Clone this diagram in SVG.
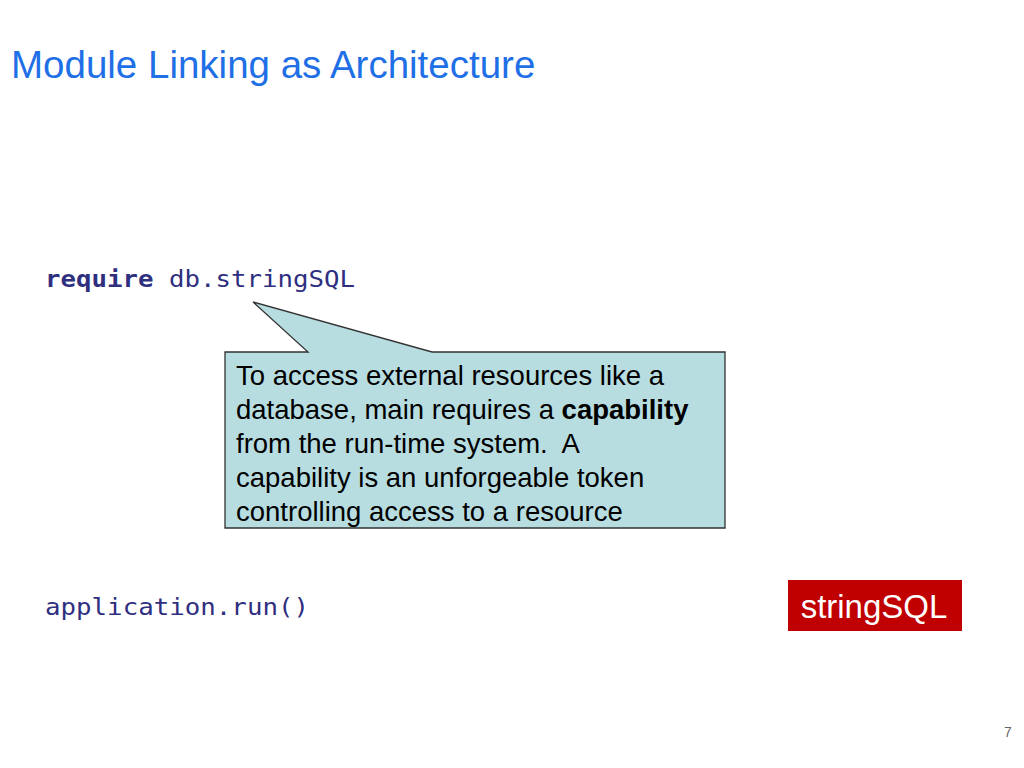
<svg xmlns="http://www.w3.org/2000/svg" width="1024" height="768" viewBox="0 0 1024 768">
<style>
.code{font-family:"DejaVu Sans Mono","Liberation Mono",monospace;font-size:23px;fill:#2f2f7f}
.body{font-family:"Liberation Sans",Arial,sans-serif;font-size:27.5px;fill:#000}
</style>
<rect width="1024" height="768" fill="#fff"/>
<text x="11" y="78" font-family="Liberation Sans,Arial,sans-serif" font-size="38.5" fill="#1f6fe6">Module Linking as Architecture</text>
<g id="code1"><text class="code" x="45" y="287" textLength="310" lengthAdjust="spacingAndGlyphs"><tspan font-weight="bold">require</tspan> db.stringSQL</text></g>
<g id="code2"><text class="code" x="45" y="615" textLength="264" lengthAdjust="spacingAndGlyphs">application.run()</text></g>
<g id="callout">
<path d="M225,352 H308 L253,302 L432,352 H725 V528 H225 Z" fill="#b7dde0" stroke="#333" stroke-width="1.3"/>
<text class="body" x="236" y="385">To access external resources like a</text>
<text class="body" x="236" y="419">database, main requires a <tspan font-weight="bold">capability</tspan></text>
<text class="body" x="236" y="453" xml:space="preserve">from the run-time system.  A</text>
<text class="body" x="236" y="487">capability is an unforgeable token</text>
<text class="body" x="236" y="521">controlling access to a resource</text>
</g>
<g id="stringSQL">
<rect x="788" y="580" width="174" height="51" fill="#c00000"/>
<text x="874" y="618" text-anchor="middle" font-family="Liberation Sans,Arial,sans-serif" font-size="33" fill="#fff">stringSQL</text>
</g>
<g id="connectors"/>
<text x="1008" y="737" font-family="Liberation Sans,Arial,sans-serif" font-size="14" fill="#666" text-anchor="middle">7</text>
</svg>
